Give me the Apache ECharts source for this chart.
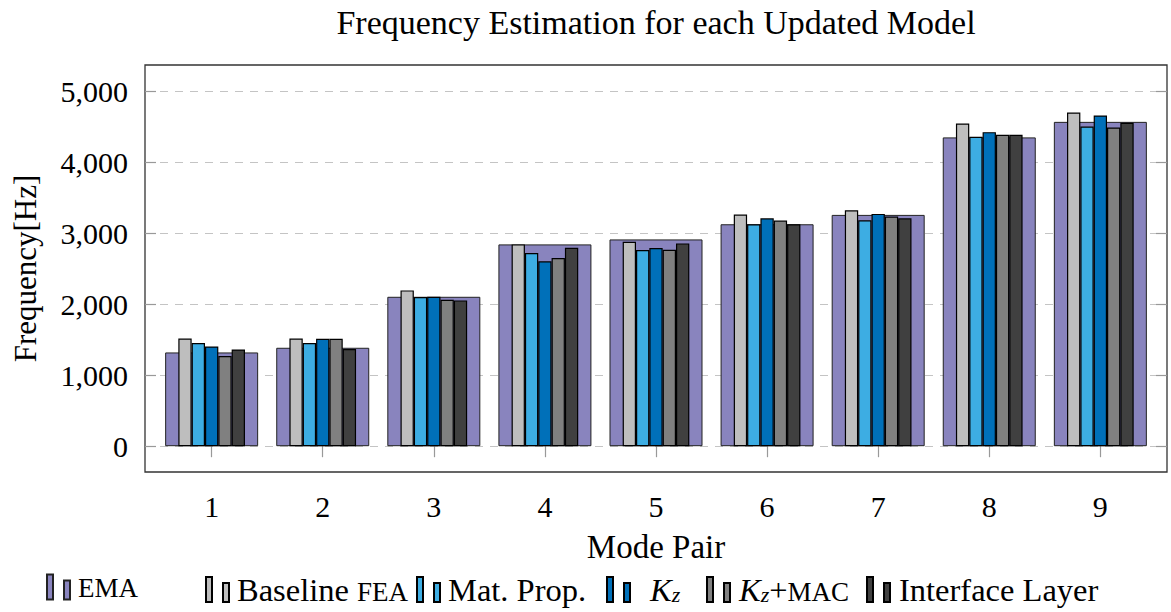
<!DOCTYPE html>
<html><head><meta charset="utf-8">
<script src="https://cdn.jsdelivr.net/npm/echarts@6/dist/echarts.min.js"></script>
<style>html,body{margin:0;padding:0;background:#fff}#c{width:1171px;height:612px}</style>
</head><body><div id="c"></div>
<script>
// ---- data ----
const modes = [1, 2, 3, 4, 5, 6, 7, 8, 9];
const yTicks = [0, 1000, 2000, 3000, 4000, 5000];
const ema            = [1322, 1388, 2107, 2846, 2916, 3130, 3262, 4355, 4574];
const baselineFea    = [1518, 1518, 2197, 2846, 2883, 3266, 3326, 4551, 4706];
const matProp        = [1454, 1454, 2103, 2724, 2766, 3130, 3186, 4364, 4509];
const kz             = [1406, 1514, 2107, 2607, 2794, 3214, 3276, 4429, 4664];
const kzMac          = [1271, 1514, 2065, 2654, 2771, 3182, 3238, 4392, 4495];
const interfaceLayer = [1364, 1369, 2056, 2799, 2860, 3130, 3214, 4392, 4560];
const seriesNames = ['EMA', 'Baseline FEA', 'Mat. Prop.', 'Kz', 'Kz+MAC', 'Interface Layer'];
const legendLabels = ['{sc|EMA}', 'Baseline {sc|FEA}', 'Mat. Prop.', '{it|K}{sub|z}', '{it|K}{sub|z}+{sc|MAC}', 'Interface Layer'];
const titleText = 'Frequency Estimation for each Updated Model';
const xName = 'Mode Pair';
const yName = 'Frequency[Hz]';

// ---- style ----
const FONT = 'Liberation Serif';
const colors = ['#8984BE', '#BEBEBE', '#3DADE3', '#0070B9', '#808080', '#404040'];
const allValues = [ema, baselineFea, matProp, kz, kzMac, interfaceLayer];
const pairs = v => modes.map((m, i) => [m, v[i]]);
const X_MIN = 0.4, X_MAX = 9.6, Y_MIN = -364, Y_MAX = 5376;

const rich = {
  sc:  { fontFamily: FONT, fontSize: 27, lineHeight: 28, verticalAlign: 'bottom', color: '#000' },
  it:  { fontFamily: FONT, fontStyle: 'italic', fontSize: 32.5, lineHeight: 32, color: '#000' },
  sub: { fontFamily: FONT, fontStyle: 'italic', fontSize: 22, lineHeight: 13, verticalAlign: 'bottom', color: '#000' }
};
const legendLeft = [46, 205, 416, 606, 706, 866];
const legendPad  = [3, 3, 3, 15, 4, 4];

const series = seriesNames.map((name, k) => ({
  name, type: 'bar',
  xAxisIndex: k === 0 ? 0 : 1,
  data: pairs(allValues[k]),
  barWidth: k === 0 ? 93 : 13.33,
  barGap: '0%',
  z: k === 0 ? 2 : 3,
  itemStyle: { color: colors[k], borderColor: k === 0 ? '#222' : '#000', borderWidth: k === 0 ? 1 : 1.2 }
}));

const legend = seriesNames.map((name, k) => ({
  data: [name], left: legendLeft[k], top: 573, padding: 0,
  itemWidth: 23, itemHeight: 25,
  icon: 'path://M0,0L6,0L6,25L0,25Z M17,6L23,6L23,25L17,25Z',
  formatter: () => legendLabels[k],
  textStyle: { fontFamily: FONT, fontSize: 32.5, lineHeight: 32, color: '#000', padding: [0, 0, 0, legendPad[k]], rich }
}));

const tickStyle = { color: '#999', width: 1.2 };
const chart = echarts.init(document.getElementById('c'), null, { renderer: 'svg' });
chart.setOption({
  animation: false,
  backgroundColor: '#fff',
  color: colors,
  grid: { left: 145, top: 62, width: 1022, height: 410, show: true, borderColor: '#333', borderWidth: 1.3, backgroundColor: 'transparent' },
  legend,
  xAxis: [
    { type: 'value', position: 'bottom', min: X_MIN, max: X_MAX,
      axisLine: { show: false },
      axisTick: { show: true, customValues: modes, length: 11, lineStyle: tickStyle },
      axisLabel: { customValues: modes, fontFamily: FONT, fontSize: 30, color: '#000', margin: 19 },
      splitLine: { show: false },
      name: xName, nameLocation: 'middle', nameGap: 58,
      nameTextStyle: { fontFamily: FONT, fontSize: 33, color: '#000' } },
    { type: 'value', position: 'top', min: X_MIN, max: X_MAX,
      axisLine: { show: false },
      axisTick: { show: true, customValues: modes, length: 11, lineStyle: tickStyle },
      axisLabel: { show: false },
      splitLine: { show: false },
      name: titleText, nameLocation: 'middle', nameGap: 26,
      nameTextStyle: { fontFamily: FONT, fontSize: 34, color: '#000' } }
  ],
  yAxis: [
    { type: 'value', position: 'left', min: Y_MIN, max: Y_MAX,
      axisLine: { show: false },
      axisTick: { show: true, inside: true, customValues: yTicks, length: 11, lineStyle: tickStyle },
      axisLabel: { customValues: yTicks, showMinLabel: true, showMaxLabel: true, fontFamily: FONT, fontSize: 30, color: '#000', margin: 17,
        formatter: v => Number(v).toLocaleString('en-US') },
      splitLine: { show: true, lineStyle: { color: '#c4c4c4', width: 1.2, type: [8, 7] } },
      name: yName, nameLocation: 'middle', nameGap: 104,
      nameTextStyle: { fontFamily: FONT, fontSize: 31, color: '#000' } },
    { type: 'value', position: 'right', min: Y_MIN, max: Y_MAX,
      axisLine: { show: false },
      axisTick: { show: true, inside: true, customValues: yTicks, length: 11, lineStyle: tickStyle },
      axisLabel: { show: false },
      splitLine: { show: false } }
  ],
  series
});
</script></body></html>
